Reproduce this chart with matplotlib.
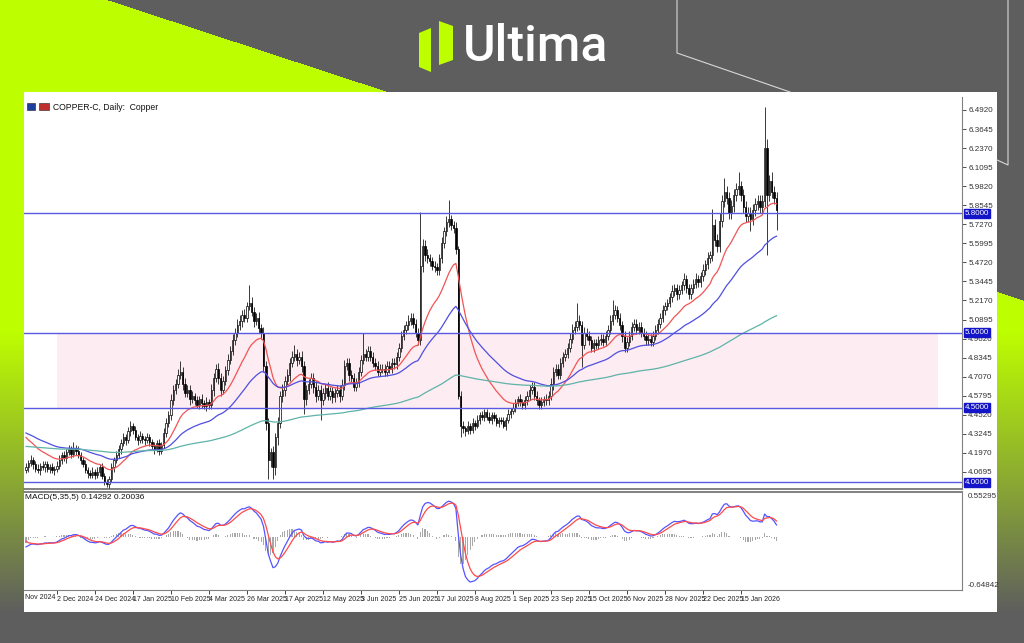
import numpy as np
import matplotlib.pyplot as plt
from matplotlib.patches import Rectangle, Polygon
import matplotlib.transforms as mtransforms

plt.rcParams['font.family'] = ['Liberation Sans', 'DejaVu Sans']

W, H = 1024, 643

# daily closes, COPPER-C (bar 0 ~ 13 Nov 2024)
first_open = 4.08
closes = [
    4.10, 4.13, 4.15, 4.12, 4.09, 4.08, 4.11, 4.10, 4.12, 4.09,
    4.10, 4.08, 4.09, 4.11, 4.15, 4.18, 4.16, 4.20, 4.22, 4.19,
    4.23, 4.21, 4.18, 4.15, 4.12, 4.08, 4.06, 4.05, 4.07, 4.05,
    4.07, 4.10, 4.04, 4.00, 3.99, 4.02, 4.10, 4.15, 4.18, 4.22,
    4.26, 4.30, 4.28, 4.34, 4.38, 4.35, 4.30, 4.28, 4.31, 4.29,
    4.28, 4.30, 4.27, 4.24, 4.22, 4.26, 4.21, 4.25, 4.33, 4.40,
    4.45, 4.55, 4.62, 4.66, 4.72, 4.74, 4.66, 4.60, 4.62, 4.56,
    4.58, 4.55, 4.52, 4.56, 4.53, 4.51, 4.54, 4.52, 4.62, 4.70,
    4.76, 4.70, 4.62, 4.68, 4.75, 4.82, 4.88, 4.95, 5.00, 5.05,
    5.08, 5.12, 5.10, 5.18, 5.20, 5.14, 5.08, 5.10, 5.03, 5.00,
    4.78, 4.40, 4.15, 4.20, 4.10, 4.30, 4.40, 4.58, 4.62, 4.68,
    4.72, 4.80, 4.84, 4.86, 4.82, 4.84, 4.78, 4.56, 4.62, 4.66,
    4.70, 4.64, 4.58, 4.62, 4.55, 4.60, 4.63, 4.58, 4.61, 4.57,
    4.60, 4.62, 4.58, 4.65, 4.78, 4.80, 4.72, 4.70, 4.64, 4.67,
    4.74, 4.82, 4.86, 4.84, 4.88, 4.84, 4.80, 4.78, 4.74, 4.76,
    4.76, 4.74, 4.78, 4.76, 4.80, 4.79, 4.84, 4.90, 4.98, 5.02,
    5.05, 5.08, 5.10, 5.06, 5.00, 4.95, 5.45, 5.58, 5.52, 5.50,
    5.48, 5.45, 5.44, 5.42, 5.50, 5.60, 5.68, 5.74, 5.76, 5.72,
    5.70, 5.56, 4.58, 4.38, 4.36, 4.34, 4.38, 4.35, 4.40, 4.38,
    4.42, 4.45, 4.44, 4.47, 4.44, 4.42, 4.45, 4.43, 4.40, 4.42,
    4.41, 4.38, 4.42, 4.46, 4.48, 4.50, 4.53, 4.56, 4.54, 4.52,
    4.55, 4.58, 4.62, 4.64, 4.58, 4.55, 4.52, 4.54, 4.56, 4.55,
    4.58, 4.66, 4.74, 4.76, 4.72, 4.80, 4.84, 4.86, 4.90, 4.96,
    5.02, 5.04, 5.08, 5.05, 4.92, 5.00, 4.98, 4.95, 4.90, 4.93,
    4.92, 4.95, 4.96, 4.94, 4.98, 5.02, 5.08, 5.12, 5.15, 5.10,
    5.05, 4.98, 4.90, 4.94, 4.98, 5.04, 5.06, 5.02, 5.04, 5.00,
    4.98, 4.95, 4.96, 4.94, 4.98, 5.02, 5.06, 5.10, 5.15, 5.18,
    5.20, 5.24, 5.28, 5.30, 5.26, 5.29, 5.32, 5.36, 5.30, 5.26,
    5.30, 5.33, 5.36, 5.34, 5.38, 5.42, 5.46, 5.50, 5.52, 5.72,
    5.62, 5.58, 5.75, 5.88, 5.94, 5.90, 5.80, 5.85, 5.92, 5.96,
    5.98, 5.92, 5.84, 5.78, 5.80, 5.76, 5.82, 5.86, 5.88, 5.84,
    5.88, 6.24, 5.92, 6.02, 5.94, 5.90, 5.82,
]
# wick lengths in cents above / below the candle body
wick_up_c = [
    3, 2, 3, 2, 2, 3, 2, 3, 2, 2,  2, 3, 2, 3, 3, 2, 3, 2, 3, 2,
    4, 2, 3, 2, 2, 3, 2, 2, 3, 2,  3, 2, 3, 2, 2, 2, 3, 2, 3, 3,
    3, 3, 2, 3, 3, 2, 3, 2, 3, 2,  2, 3, 2, 2, 3, 2, 3, 2, 3, 3,
    3, 4, 3, 3, 4, 7, 3, 4, 3, 3,  3, 2, 3, 2, 3, 2, 3, 2, 4, 3,
    3, 4, 3, 3, 3, 4, 3, 4, 3, 4,  4, 3, 4, 3, 12, 4, 3, 3, 4, 3,
    4, 3, 3, 3, 4, 3, 4, 3, 4, 3,  4, 3, 4, 6, 3, 3, 4, 3, 3, 3,
    3, 3, 4, 3, 3, 3, 3, 4, 3, 3,  3, 3, 3, 4, 4, 3, 3, 3, 3, 3,
    3, 3, 14, 3, 3, 3, 3, 3, 3, 3,  3, 3, 3, 3, 3, 3, 3, 3, 3, 3,
    3, 4, 3, 3, 3, 3, 36, 5, 4, 4,  3, 3, 3, 3, 3, 4, 3, 4, 13, 3,
    3, 4, 2, 3, 3, 2, 3, 2, 3, 2,  3, 2, 3, 2, 2, 3, 2, 2, 3, 2,
    2, 3, 2, 3, 2, 3, 3, 2, 3, 2,  3, 3, 3, 3, 3, 3, 2, 3, 2, 3,
    3, 4, 3, 3, 3, 3, 3, 3, 3, 4,  4, 4, 12, 4, 3, 4, 3, 3, 3, 3,
    3, 3, 3, 3, 3, 3, 4, 10, 4, 3,  3, 3, 3, 3, 3, 3, 3, 3, 3, 3,
    3, 3, 3, 3, 3, 3, 3, 3, 4, 3,  3, 3, 4, 3, 3, 3, 3, 4, 3, 3,
    3, 3, 4, 3, 3, 4, 3, 4, 3, 11,  4, 4, 5, 4, 10, 4, 4, 4, 4, 4,
    10, 4, 4, 4, 4, 4, 4, 4, 4, 4,  4, 27, 6, 4, 6, 4, 4,
]
wick_dn_c = [
    2, 3, 2, 3, 2, 2, 3, 2, 3, 2,  3, 2, 3, 2, 2, 3, 2, 3, 2, 3,
    2, 3, 2, 3, 2, 2, 3, 2, 2, 3,  2, 3, 2, 2, 2, 3, 2, 3, 2, 2,
    3, 2, 3, 2, 3, 3, 2, 3, 2, 3,  3, 2, 3, 2, 3, 2, 3, 2, 2, 3,
    3, 3, 3, 3, 3, 3, 4, 3, 3, 4,  3, 3, 2, 3, 3, 2, 3, 3, 3, 4,
    3, 4, 4, 3, 3, 3, 3, 3, 3, 3,  3, 4, 3, 3, 3, 3, 4, 3, 3, 4,
    4, 5, 13, 5, 8, 5, 5, 4, 4, 4,  3, 4, 3, 3, 4, 3, 4, 10, 4, 3,
    3, 4, 4, 3, 13, 3, 4, 3, 3, 4,  3, 3, 4, 3, 3, 3, 4, 3, 3, 3,
    3, 3, 3, 3, 3, 3, 3, 3, 3, 3,  3, 3, 3, 3, 3, 3, 3, 3, 3, 3,
    3, 3, 3, 3, 3, 3, 3, 4, 4, 3,  3, 3, 3, 3, 3, 3, 3, 3, 3, 3,
    3, 3, 2, 8, 3, 3, 2, 3, 2, 3,  2, 3, 2, 3, 2, 2, 3, 2, 2, 3,
    2, 2, 3, 2, 3, 2, 3, 2, 3, 3,  3, 3, 3, 3, 3, 3, 3, 3, 3, 3,
    3, 3, 4, 3, 3, 3, 3, 3, 3, 3,  3, 3, 3, 3, 15, 3, 3, 3, 3, 3,
    3, 3, 3, 3, 3, 3, 3, 3, 3, 3,  3, 4, 3, 3, 3, 3, 3, 3, 3, 3,
    3, 3, 3, 3, 3, 3, 3, 3, 3, 3,  3, 3, 3, 3, 4, 3, 3, 3, 3, 3,
    3, 3, 3, 3, 3, 3, 3, 3, 3, 4,  4, 4, 4, 4, 4, 4, 4, 4, 4, 4,
    4, 4, 4, 4, 4, 8, 4, 4, 4, 4,  4, 4, 40, 4, 4, 4, 13,
]

# moving averages (EMA) and their values at the left edge of the chart
ma_periods = [20, 50, 200]
ma_start = [4.30, 4.33, 4.24]
# MACD(5,35,5) values at the left edge
macd_start = -0.12
signal_start = -0.05

levels = [5.80, 5.00, 4.50, 4.00]
zone_low, zone_high = 4.50, 5.00
zone_first_bar, zone_last_bar = 13, 384

price_ticks = [6.4920, 6.3645, 6.2370, 6.1095, 5.9820, 5.8545, 5.7270, 5.5995,
               5.4720, 5.3445, 5.2170, 5.0895, 4.9620, 4.8345, 4.7070, 4.5795,
               4.4520, 4.3245, 4.1970, 4.0695]
date_tick_bars = [13 + 16 * k for k in range(19)]
date_labels = ['2 Dec 2024', '24 Dec 2024', '17 Jan 2025', '10 Feb 2025', '4 Mar 2025',
               '26 Mar 2025', '17 Apr 2025', '12 May 2025', '3 Jun 2025', '25 Jun 2025',
               '17 Jul 2025', '8 Aug 2025', '1 Sep 2025', '23 Sep 2025', '15 Oct 2025',
               '6 Nov 2025', '28 Nov 2025', '22 Dec 2025', '15 Jan 2026']


def ema(values, period, seed):
    a = 2.0 / (period + 1)
    out = [seed]
    for v in values[1:]:
        out.append(out[-1] + a * (v - out[-1]))
    return np.array(out)


closes = np.array(closes)
n = len(closes)
x = np.arange(n)
opens = np.r_[first_open, closes[:-1]]
highs = np.maximum(opens, closes) + np.array(wick_up_c) / 100
lows = np.minimum(opens, closes) - np.array(wick_dn_c) / 100

mas = [ema(closes, p, s) for p, s in zip(ma_periods, ma_start)]
fast = ema(closes, 5, closes[0])
slow = ema(closes, 35, closes[0] - macd_start)
macd = fast - slow
signal = ema(macd, 5, signal_start)
hist = macd - signal

fig = plt.figure(figsize=(W / 100, H / 100), dpi=100)

# ---- branded background ----
bg = fig.add_axes([0, 0, 1, 1])
bg.set_xlim(0, W)
bg.set_ylim(H, 0)
bg.axis('off')
gray = np.array([0.369, 0.369, 0.369])
lime = np.array([0.745, 1.0, 0.0])
yy, xx = np.mgrid[0:H, 0:W]
mask = (yy > 0.328 * (xx - 108)).astype(float)
fade = np.clip((612 - yy) / 282.0, 0, 1)
img = gray + (lime - gray) * (mask * fade)[..., None]
bg.imshow(img, extent=(0, W, H, 0), aspect='auto', interpolation='nearest')
bg.add_patch(Rectangle((24, 92), 973, 520, fc='white', ec='none'))
bg.plot([677, 677, 790], [0, 53, 92], color='#d8d8d8', lw=0.8)
bg.plot([1008, 1008, 997], [0, 165, 160], color='#d8d8d8', lw=0.8)
bg.add_patch(Polygon([(419, 33), (431, 28), (431, 72), (419, 67)], fc='#BEFF00', ec='none'))
bg.add_patch(Polygon([(439, 21), (453, 26), (453, 60), (439, 65)], fc='#BEFF00', ec='none'))
bg.text(463, 47, 'Ultima', color='white', fontsize=36, fontweight='medium',
        family='Roboto', ha='left', va='center')
# small MT4 header icons
bg.add_patch(Rectangle((27, 103), 8, 7, fc='#1f3f9f', ec='#202020', lw=0.4))
bg.add_patch(Rectangle((39, 103), 10, 7, fc='#c03030', ec='#202020', lw=0.4))

# ---- price window ----
ax = fig.add_axes([24 / W, 1 - 489 / H, 938 / W, 392 / H])
ax.patch.set_visible(False)
ax.set_xlim(-0.84, 394.1)
ax.set_ylim(3.955, 6.579)

ax.add_patch(Rectangle((zone_first_bar, zone_low), zone_last_bar - zone_first_bar,
                       zone_high - zone_low, fc='#FDECF1', ec='none', zorder=1))

ax.vlines(x, lows, highs, color='#1a1a1a', lw=0.6, zorder=3)
up = closes >= opens
ax.bar(x[up], (closes - opens)[up], bottom=opens[up], width=0.6,
       color='white', edgecolor='black', linewidth=0.5, zorder=3.5)
ax.bar(x[~up], (opens - closes)[~up], bottom=closes[~up], width=0.6,
       color='black', edgecolor='black', linewidth=0.5, zorder=3.5)

ma_colors = ['#F25454', '#4F4FE0', '#5FB3A8']
for vals, c in zip(mas, ma_colors):
    ax.plot(x, vals, color=c, lw=0.9, zorder=4)

trans = mtransforms.blended_transform_factory(ax.transAxes, ax.transData)
for lv in levels:
    ax.axhline(lv, color='#5A5AE0', lw=1.0, zorder=5)
    ax.text(1.003, lv, f'{lv:.4f}', transform=trans, fontsize=5.8, color='white',
            va='center', ha='left', zorder=10, clip_on=False,
            bbox=dict(boxstyle='square,pad=0.12', fc='#1414C8', ec='#1414C8'))

ax.yaxis.tick_right()
ax.set_yticks(price_ticks)
ax.set_yticklabels([f'{v:.4f}' for v in price_ticks])
ax.tick_params(axis='y', direction='out', length=3, width=0.6, labelsize=5.8,
               colors='#333333', pad=1.5)
ax.set_xticks([])
for s in ['left', 'top']:
    ax.spines[s].set_visible(False)
ax.spines['right'].set_color('#808080')
ax.spines['bottom'].set_color('#808080')
ax.spines['bottom'].set_linewidth(1.4)
ax.text(0.031, 0.974, 'COPPER-C, Daily:  Copper', transform=ax.transAxes,
        fontsize=6.2, va='center', ha='left', color='#111111')

# ---- MACD window ----
mx = fig.add_axes([24 / W, 1 - 590 / H, 938 / W, 98 / H])
mx.patch.set_visible(False)
mx.set_xlim(-0.84, 394.1)
mx.set_ylim(-0.64842, 0.55295)
mx.bar(x, hist, width=0.5, color='#A8A8A8', zorder=2)
mx.plot(x, macd, color='#5555FF', lw=0.9, zorder=3)
mx.plot(x, signal, color='#FF4A4A', lw=0.9, zorder=3)
mx.set_yticks([])
mx.spines['left'].set_visible(False)
for s in ['top', 'right', 'bottom']:
    mx.spines[s].set_color('#808080')
mx.spines['top'].set_linewidth(1.4)
mx.text(1.006, 0.985, '0.55295', transform=mx.transAxes, fontsize=5.8,
        va='top', ha='left', color='#333333')
mx.text(1.006, 0.015, '-0.64842', transform=mx.transAxes, fontsize=5.8,
        va='bottom', ha='left', color='#333333')
mx.text(0.001, 0.975, 'MACD(5,35,5) 0.14292 0.20036', transform=mx.transAxes,
        fontsize=6.0, va='top', ha='left', color='#111111')
mx.set_xticks(date_tick_bars)
mx.set_xticklabels(date_labels)
mx.tick_params(axis='x', direction='out', length=3, width=0.6, labelsize=5.0,
               colors='#222222', pad=1.5)
for lbl in mx.get_xticklabels():
    lbl.set_ha('left')
mx.text(0.001, -0.04, 'Nov 2024', transform=mx.transAxes, fontsize=5.0,
        va='top', ha='left', color='#222222')

fig.savefig('out.png', dpi=100)
